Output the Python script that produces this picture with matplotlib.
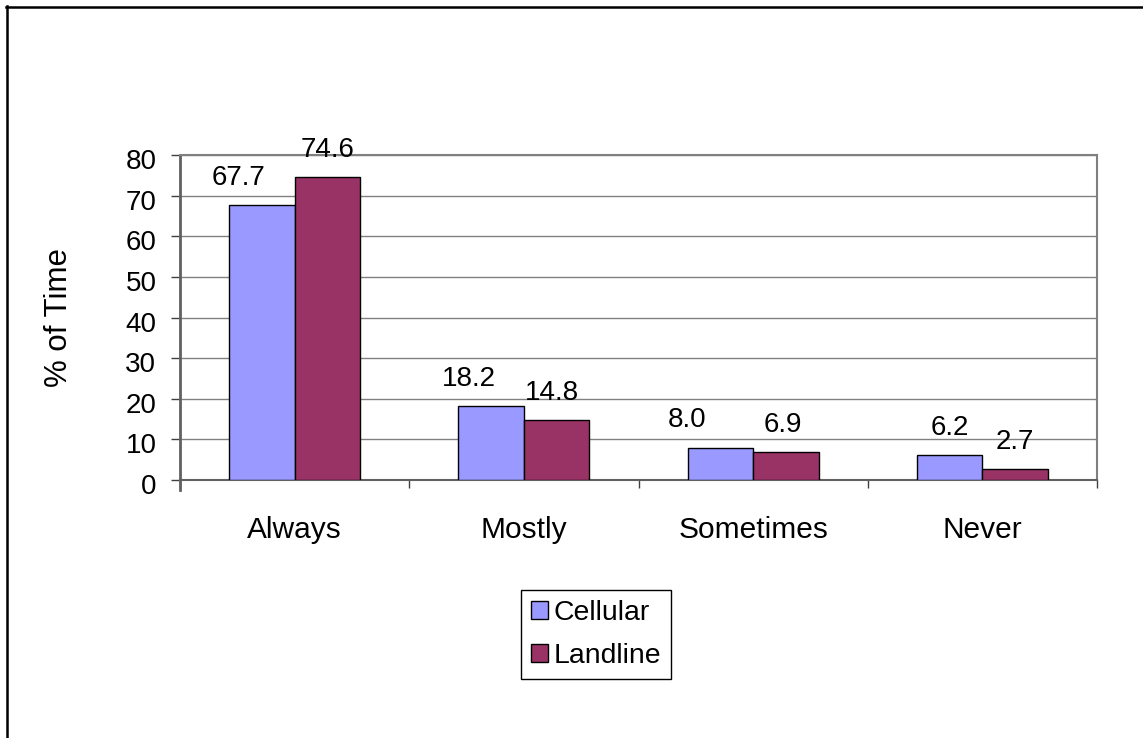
"""
Survey answers: share of time, cellular vs landline
Excel-style grouped bar chart
"""
import numpy as np
import matplotlib
matplotlib.use('Agg')
import matplotlib.pyplot as plt
from matplotlib.lines import Line2D
from matplotlib.transforms import ScaledTranslation

plt.rcParams['font.family'] = ['Liberation Sans', 'DejaVu Sans']

# data
categories = ['Always', 'Mostly', 'Sometimes', 'Never']
cellular = [67.7, 18.2, 8.0, 6.2]
landline = [74.6, 14.8, 6.9, 2.7]
yticks = [0, 10, 20, 30, 40, 50, 60, 70, 80]

# label nudges (pixels) to mimic where Excel put them
cell_dx = [-23, -22, -33, 0]
land_dx = [0, -5, -3, 0]

fig = plt.figure(figsize=(11.43, 7.38), dpi=100)
ax = fig.add_axes([180/1143, 1 - 480/738, 917/1143, 325/738])

x = np.arange(len(categories)) + 0.5
w = 65.5/229.25
b1 = ax.bar(x - w/2, cellular, w, color='#9999FF', edgecolor='black', lw=1, label='Cellular', zorder=3)
b2 = ax.bar(x + w/2, landline, w, color='#993366', edgecolor='black', lw=1, label='Landline', zorder=3)

for bars, vals, dxs in [(b1, cellular, cell_dx), (b2, landline, land_dx)]:
    for r, v, dx in zip(bars, vals, dxs):
        ax.annotate('%.1f' % v, (r.get_x() + r.get_width()/2, v),
                    xytext=(dx*0.72, 14.5), textcoords='offset points',
                    ha='center', va='baseline', fontsize=20, zorder=4)

ax.set_xlim(0, 4)
ax.set_ylim(0, 80)
ax.set_yticks(yticks)
ax.yaxis.grid(True, color='#808080', lw=1, zorder=0)
ax.tick_params(axis='y', labelsize=20, length=6.5, width=1, direction='out', pad=10.5, color='#404040')
# Excel draws the numbers a touch below their gridline
shift = ScaledTranslation(0, -4/100, fig.dpi_scale_trans)
for lab in ax.get_yticklabels():
    lab.set_transform(lab.get_transform() + shift)

# category boundaries get the ticks, centres get the labels
ax.set_xticks([0, 1, 2, 3, 4])
ax.set_xticklabels([])
ax.set_xticks(x, minor=True)
ax.set_xticklabels(categories, minor=True, fontsize=21.5)
ax.tick_params(axis='x', which='major', length=6, width=1, direction='out', color='#404040')
ax.tick_params(axis='x', which='minor', length=0, pad=26)

for s in ['top', 'right']:
    ax.spines[s].set_color('#808080')
    ax.spines[s].set_linewidth(1.5)
ax.spines['left'].set_color('#606060')
ax.spines['left'].set_linewidth(2)
ax.spines['left'].set_bounds(-2.4, 80)
ax.spines['bottom'].set_color('#606060')
ax.spines['bottom'].set_linewidth(1.5)

ax.set_ylabel('% of Time', fontsize=22.5)
ax.yaxis.set_label_coords(-0.1156, 0.5)

leg = ax.legend(loc='upper left', bbox_to_anchor=(521/1143, 1 - 590/738),
                bbox_transform=fig.transFigure, fontsize=20.4, fancybox=False,
                edgecolor='black', framealpha=1, handlelength=0.6, handleheight=0.6,
                handletextpad=0.2, labelspacing=0.6, borderpad=0.35, borderaxespad=0)
leg.get_frame().set_linewidth(1)

# outer chart frame (only top and left show)
fig.add_artist(Line2D([6/1143, 1], [1 - 7/738, 1 - 7/738], color='black', lw=1.8))
fig.add_artist(Line2D([7/1143, 7/1143], [0, 1 - 6/738], color='black', lw=1.8))

fig.savefig('out.png', dpi=100)
